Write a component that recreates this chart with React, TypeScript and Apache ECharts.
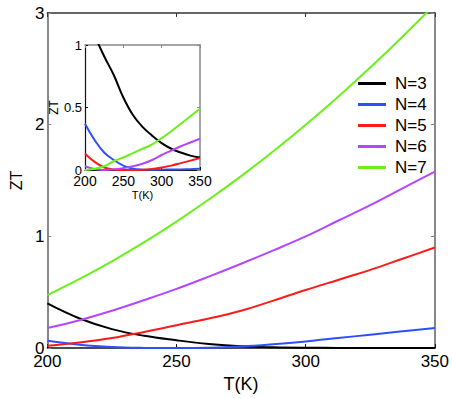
import React, { useEffect, useRef } from "react";
import * as echarts from "echarts";

const T_VALUES = [200, 212.5, 225, 237.5, 250, 262.5, 275, 287.5, 300, 312.5, 325, 337.5, 350];
const SERIES_NAMES = ["N=3", "N=4", "N=5", "N=6", "N=7"];
const SERIES_COLORS = ["#000000", "#2f4fff", "#ff1a1a", "#b446ff", "#6cf01a"];

// Main plot (ZT vs T)
const MAIN_N3 = [0.4, 0.265, 0.17, 0.11, 0.07, 0.037, 0.016, 0.007, 0.003, 0.002, 0.001, 0.001, 0.002];
const MAIN_N4 = [0.065, 0.03, 0.01, 0.002, 0.0, 0.004, 0.015, 0.035, 0.06, 0.09, 0.12, 0.15, 0.18];
const MAIN_N5 = [0.02, 0.05, 0.09, 0.145, 0.205, 0.265, 0.335, 0.425, 0.52, 0.61, 0.7, 0.8, 0.9];
const MAIN_N6 = [0.18, 0.25, 0.335, 0.43, 0.53, 0.64, 0.755, 0.875, 1.0, 1.14, 1.28, 1.43, 1.58];
const MAIN_N7 = [0.475, 0.62, 0.777, 0.948, 1.133, 1.33, 1.54, 1.763, 2.0, 2.249, 2.512, 2.788, 3.077];

// Inset plot
const INSET_N3 = [1.3, 1.08, 0.91, 0.76, 0.58, 0.44, 0.345, 0.275, 0.215, 0.17, 0.14, 0.115, 0.1];
const INSET_N4 = [0.37, 0.24, 0.14, 0.08, 0.035, 0.01, 0.003, 0.002, 0.003, 0.004, 0.005, 0.007, 0.01];
const INSET_N5 = [0.13, 0.065, 0.02, 0.004, 0.0, 0.0, 0.002, 0.008, 0.02, 0.035, 0.055, 0.075, 0.095];
const INSET_N6 = [0.03, 0.008, 0.0, 0.005, 0.015, 0.03, 0.05, 0.08, 0.12, 0.155, 0.19, 0.22, 0.25];
const INSET_N7 = [0.0, 0.01, 0.03, 0.07, 0.1, 0.135, 0.17, 0.205, 0.255, 0.31, 0.37, 0.43, 0.49];

const MAIN_X_TICKS = [200, 250, 300, 350];
const MAIN_Y_TICKS = [0, 1, 2, 3];

const FONT = "'Liberation Sans', Arial, sans-serif";

function pairs(ys: number[]) {
  return T_VALUES.map((t, i) => [t, ys[i]]);
}

export default function App() {
  const ref = useRef<HTMLDivElement>(null);
  useEffect(() => {
    if (!ref.current) return;
    const chart = echarts.init(ref.current, null, { renderer: "svg" });
    const mainData = [MAIN_N3, MAIN_N4, MAIN_N5, MAIN_N6, MAIN_N7];
    const insetData = [INSET_N3, INSET_N4, INSET_N5, INSET_N6, INSET_N7];

    const axisBase = (color: string, width: number) => ({
      axisLine: { show: true, onZero: false, lineStyle: { color, width } },
      axisTick: { show: true, inside: true, length: 4, lineStyle: { color, width: 1 } },
      splitLine: { show: false },
    });

    const series: any[] = [];
    SERIES_NAMES.forEach((name, i) => {
      series.push({
        name,
        type: "line",
        xAxisIndex: 0,
        yAxisIndex: 0,
        data: pairs(mainData[i]),
        smooth: 0.4,
        symbol: "none",
        clip: true,
        lineStyle: { color: SERIES_COLORS[i], width: 2 },
        itemStyle: { color: SERIES_COLORS[i] },
      });
    });
    SERIES_NAMES.forEach((name, i) => {
      series.push({
        name,
        type: "line",
        xAxisIndex: 2,
        yAxisIndex: 2,
        data: pairs(insetData[i]),
        smooth: 0.4,
        symbol: "none",
        clip: true,
        lineStyle: { color: SERIES_COLORS[i], width: 2 },
        itemStyle: { color: SERIES_COLORS[i] },
      });
    });

    chart.setOption({
      animation: false,
      backgroundColor: "#ffffff",
      textStyle: { fontFamily: FONT },
      grid: [
        { left: 34, top: 13, width: 401, height: 341 },
        { left: 85, top: 45, width: 115, height: 125 },
      ],
      xAxis: [
        {
          type: "value",
          gridIndex: 0,
          position: "bottom",
          min: MAIN_X_TICKS[0],
          max: MAIN_X_TICKS[MAIN_X_TICKS.length - 1],
          interval: 50,
          name: "T(K)",
          nameLocation: "middle",
          nameGap: 22,
          nameTextStyle: { fontSize: 18, color: "#000", fontFamily: FONT },
          ...axisBase("#111111", 1.5),
          axisLabel: { fontSize: 17, color: "#000", margin: 5, fontFamily: FONT },
        },
        {
          type: "value",
          gridIndex: 0,
          position: "top",
          min: 200,
          max: 350,
          interval: 50,
          ...axisBase("#333333", 1.5),
          axisLabel: { show: false },
        },
        {
          type: "value",
          gridIndex: 1,
          position: "bottom",
          min: 200,
          max: 350,
          interval: 50,
          name: "T(K)",
          nameLocation: "middle",
          nameGap: 19,
          nameTextStyle: { fontSize: 11, color: "#000", fontFamily: FONT },
          ...axisBase("#111111", 1.2),
          axisTick: { show: true, inside: true, length: 3, lineStyle: { color: "#111", width: 1 } },
          axisLabel: { fontSize: 14, color: "#000", margin: 4, fontFamily: FONT },
        },
        {
          type: "value",
          gridIndex: 1,
          position: "top",
          min: 200,
          max: 350,
          interval: 50,
          ...axisBase("#888888", 1.5),
          axisTick: { show: true, inside: true, length: 3, lineStyle: { color: "#888", width: 1 } },
          axisLabel: { show: false },
        },
      ],
      yAxis: [
        {
          type: "value",
          gridIndex: 0,
          position: "left",
          min: MAIN_Y_TICKS[0],
          max: MAIN_Y_TICKS[MAIN_Y_TICKS.length - 1],
          interval: 1,
          name: "ZT",
          nameLocation: "middle",
          nameGap: 18,
          nameTextStyle: { fontSize: 16, color: "#000", fontFamily: FONT },
          ...axisBase("#888888", 2),
          axisLabel: { fontSize: 17, color: "#000", margin: 3, fontFamily: FONT },
        },
        {
          type: "value",
          gridIndex: 0,
          position: "right",
          min: 0,
          max: 3,
          interval: 1,
          ...axisBase("#888888", 2),
          axisLabel: { show: false },
        },
        {
          type: "value",
          gridIndex: 1,
          position: "left",
          min: 0,
          max: 1,
          interval: 0.5,
          name: "ZT",
          nameLocation: "middle",
          nameGap: 22,
          nameTextStyle: { fontSize: 12, color: "#000", fontFamily: FONT },
          ...axisBase("#111111", 1.2),
          axisTick: { show: true, inside: true, length: 3, lineStyle: { color: "#111", width: 1 } },
          axisLabel: { fontSize: 13, color: "#000", margin: 3, fontFamily: FONT },
        },
        {
          type: "value",
          gridIndex: 1,
          position: "right",
          min: 0,
          max: 1,
          interval: 0.5,
          ...axisBase("#888888", 1.5),
          axisTick: { show: true, inside: true, length: 3, lineStyle: { color: "#888", width: 1 } },
          axisLabel: { show: false },
        },
      ],
      legend: {
        data: SERIES_NAMES,
        orient: "vertical",
        left: 358,
        top: 75,
        padding: 0,
        itemGap: 4,
        itemWidth: 28,
        itemHeight: 3,
        icon: "rect",
        selectedMode: false,
        textStyle: { fontSize: 17, lineHeight: 17, color: "#000", fontFamily: FONT, padding: [0, 0, 0, 4] },
      },
      series,
    });
    return () => chart.dispose();
  }, []);
  return <div ref={ref} style={{ width: 452, height: 398, position: "absolute", left: 0, top: 0 }} />;
}
